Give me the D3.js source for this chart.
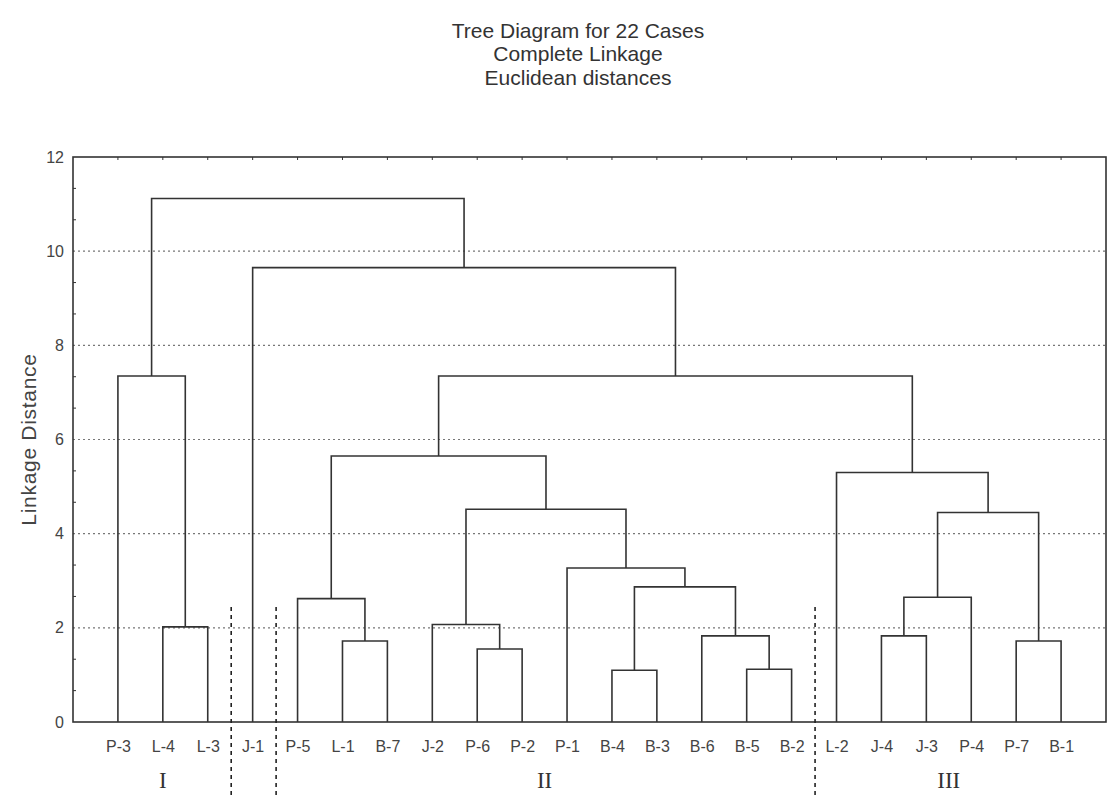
<!DOCTYPE html>
<html>
<head>
<meta charset="utf-8">
<script src="https://cdn.jsdelivr.net/npm/d3@7"></script>
<style>
  body { margin: 0; background: #fff; }
  svg { display: block; }
</style>
</head>
<body>
<svg id="svg"></svg>
<script>
// leaf order as read along the bottom axis
const leaves = ['P-3','L-4','L-3','J-1','P-5','L-1','B-7','J-2','P-6','P-2','P-1',
                'B-4','B-3','B-6','B-5','B-2','L-2','J-4','J-3','P-4','P-7','B-1'];

// linkage: [left, right, distance]; ids < 22 are leaves, merge k gets id 22 + k
const linkage = [
  [11, 12, 1.10],  // 22 B-4 B-3
  [14, 15, 1.12],  // 23 B-5 B-2
  [8, 9, 1.55],    // 24 P-6 P-2
  [5, 6, 1.72],    // 25 L-1 B-7
  [20, 21, 1.72],  // 26 P-7 B-1
  [13, 23, 1.83],  // 27
  [17, 18, 1.83],  // 28 J-4 J-3
  [1, 2, 2.02],    // 29 L-4 L-3
  [7, 24, 2.07],   // 30
  [4, 25, 2.62],   // 31
  [28, 19, 2.65],  // 32
  [22, 27, 2.87],  // 33
  [10, 33, 3.27],  // 34
  [32, 26, 4.45],  // 35
  [30, 34, 4.52],  // 36
  [16, 35, 5.30],  // 37
  [31, 36, 5.65],  // 38
  [0, 29, 7.35],   // 39
  [38, 37, 7.35],  // 40
  [3, 40, 9.65],   // 41
  [39, 41, 11.12]  // 42
];

const yTicks = [0, 2, 4, 6, 8, 10, 12];
const titleLines = ['Tree Diagram for 22 Cases', 'Complete Linkage', 'Euclidean distances'];
// group labels: name and the leaves they sit under
const groupNames = ['I', 'II', 'III'];
const groupSpans = [[0, 2], [4, 15], [16, 21]];
// dashed separators sit between these leaf pairs
const dividers = [[2, 3], [3, 4], [15, 16]];

const W = 1110, H = 796;
const pad = {top: 157, right: 4, bottom: 74, left: 73};
const svg = d3.select('#svg').attr('width', W).attr('height', H);

const x = d3.scalePoint()
  .domain(leaves)
  .range([pad.left, W - pad.right])
  .padding(1);

const y = d3.scaleLinear()
  .domain([0, 12])
  .range([H - pad.bottom, pad.top]);

const ink = '#333';
const sans = 'Liberation Sans, Arial, sans-serif';

// title
svg.append('g').selectAll('text')
  .data(titleLines)
  .enter()
  .append('text')
  .attr('x', 578)
  .attr('y', (d, i) => 37.5 + i * 23.5)
  .attr('text-anchor', 'middle')
  .style('font-family', sans)
  .style('font-size', '21px')
  .attr('fill', '#333')
  .text(d => d);

// dotted grid lines
svg.append('g').selectAll('line')
  .data(yTicks.filter(d => d > 0 && d < 12))
  .enter()
  .append('line')
  .attr('x1', pad.left)
  .attr('x2', W - pad.right)
  .attr('y1', d => y(d))
  .attr('y2', d => y(d))
  .attr('stroke', '#777')
  .attr('stroke-width', 1.2)
  .attr('stroke-dasharray', '2,3');

// node positions
const nodeX = leaves.map(d => x(d));
const nodeH = leaves.map(() => 0);
linkage.forEach(([a, b, h]) => {
  nodeX.push((nodeX[a] + nodeX[b]) / 2);
  nodeH.push(h);
});

// dendrogram links
svg.append('g').selectAll('path')
  .data(linkage)
  .enter()
  .append('path')
  .attr('d', ([a, b, h]) =>
    `M${nodeX[a]},${y(nodeH[a])}V${y(h)}H${nodeX[b]}V${y(nodeH[b])}`)
  .attr('fill', 'none')
  .attr('stroke', ink)
  .attr('stroke-width', 1.6);

// frame
svg.append('rect')
  .attr('x', pad.left)
  .attr('y', pad.top)
  .attr('width', W - pad.right - pad.left)
  .attr('height', H - pad.bottom - pad.top)
  .attr('fill', 'none')
  .attr('stroke', ink)
  .attr('stroke-width', 1.6);

// y axis
const yAxis = d3.axisLeft(y).tickValues(yTicks).tickSize(0).tickPadding(9);
const gy = svg.append('g')
  .attr('transform', `translate(${pad.left},0)`)
  .call(yAxis);
gy.select('.domain').remove();
gy.selectAll('text')
  .style('font-family', sans)
  .style('font-size', '16px')
  .attr('fill', '#444');

// minor ticks inside the frame
svg.append('g').selectAll('line')
  .data(d3.range(0, 12, 2 / 3).filter((d, i) => i % 3 !== 0))
  .enter()
  .append('line')
  .attr('x1', pad.left)
  .attr('x2', pad.left + 3)
  .attr('y1', d => y(d))
  .attr('y2', d => y(d))
  .attr('stroke', ink);

svg.append('g').selectAll('line')
  .data(leaves)
  .enter()
  .append('line')
  .attr('x1', d => x(d))
  .attr('x2', d => x(d))
  .attr('y1', pad.top)
  .attr('y2', pad.top + 3)
  .attr('stroke', ink);

// y axis title
svg.append('text')
  .attr('transform', `translate(36,${(pad.top + H - pad.bottom) / 2}) rotate(-90)`)
  .attr('text-anchor', 'middle')
  .style('font-family', sans)
  .style('font-size', '21px')
  .style('letter-spacing', '0.7px')
  .attr('fill', '#444')
  .text('Linkage Distance');

// leaf labels
const xAxis = d3.axisBottom(x).tickSize(0).tickPadding(19);
const gx = svg.append('g')
  .attr('transform', `translate(0,${H - pad.bottom})`)
  .call(xAxis);
gx.select('.domain').remove();
gx.selectAll('text')
  .style('font-family', sans)
  .style('font-size', '16px')
  .attr('fill', '#444');

// group separators
svg.append('g').selectAll('line')
  .data(dividers)
  .enter()
  .append('line')
  .attr('x1', ([a, b]) => (x(leaves[a]) + x(leaves[b])) / 2 + 1)
  .attr('x2', ([a, b]) => (x(leaves[a]) + x(leaves[b])) / 2 + 1)
  .attr('y1', 607)
  .attr('y2', H)
  .attr('stroke', '#222')
  .attr('stroke-width', 1.6)
  .attr('stroke-dasharray', '4,4');

// group labels
svg.append('g').selectAll('text')
  .data(groupNames)
  .enter()
  .append('text')
  .attr('x', (d, i) => (x(leaves[groupSpans[i][0]]) + x(leaves[groupSpans[i][1]])) / 2)
  .attr('y', 788)
  .attr('text-anchor', 'middle')
  .style('font-family', 'Liberation Serif, Times New Roman, serif')
  .style('font-size', '23px')
  .attr('fill', '#333')
  .text(d => d);
</script>
</body>
</html>
